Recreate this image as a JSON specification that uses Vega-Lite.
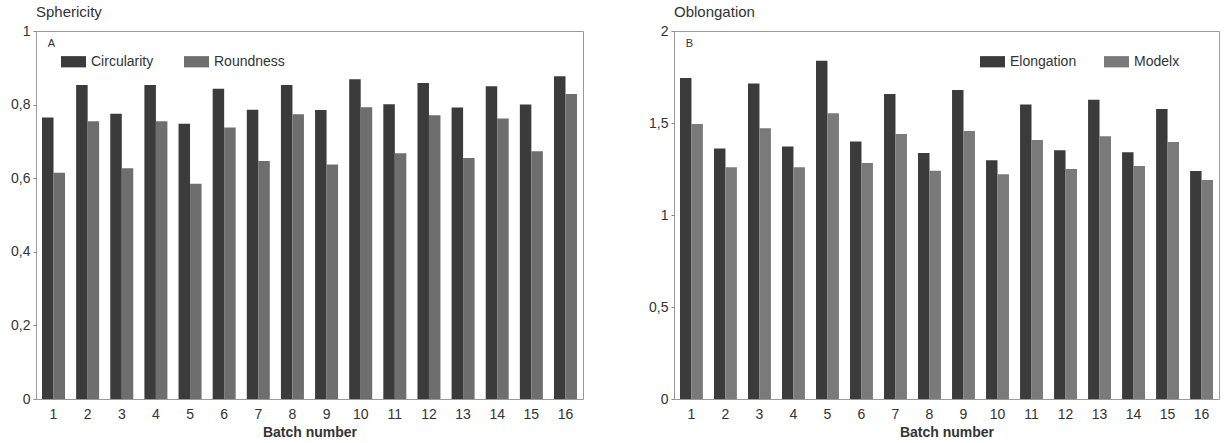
{
  "$schema": "https://vega.github.io/schema/vega-lite/v6.json",
  "background": "white",
  "padding": {"left": 10, "top": 4, "right": 2, "bottom": 0},
  "datasets": {
    "sph": [
      {"batch": 1, "series": "Circularity", "value": 0.765}, {"batch": 1, "series": "Roundness", "value": 0.615},
      {"batch": 2, "series": "Circularity", "value": 0.853}, {"batch": 2, "series": "Roundness", "value": 0.755},
      {"batch": 3, "series": "Circularity", "value": 0.775}, {"batch": 3, "series": "Roundness", "value": 0.627},
      {"batch": 4, "series": "Circularity", "value": 0.853}, {"batch": 4, "series": "Roundness", "value": 0.755},
      {"batch": 5, "series": "Circularity", "value": 0.748}, {"batch": 5, "series": "Roundness", "value": 0.585},
      {"batch": 6, "series": "Circularity", "value": 0.843}, {"batch": 6, "series": "Roundness", "value": 0.738},
      {"batch": 7, "series": "Circularity", "value": 0.786}, {"batch": 7, "series": "Roundness", "value": 0.647},
      {"batch": 8, "series": "Circularity", "value": 0.853}, {"batch": 8, "series": "Roundness", "value": 0.774},
      {"batch": 9, "series": "Circularity", "value": 0.785}, {"batch": 9, "series": "Roundness", "value": 0.637},
      {"batch": 10, "series": "Circularity", "value": 0.869}, {"batch": 10, "series": "Roundness", "value": 0.793},
      {"batch": 11, "series": "Circularity", "value": 0.801}, {"batch": 11, "series": "Roundness", "value": 0.668},
      {"batch": 12, "series": "Circularity", "value": 0.859}, {"batch": 12, "series": "Roundness", "value": 0.771},
      {"batch": 13, "series": "Circularity", "value": 0.792}, {"batch": 13, "series": "Roundness", "value": 0.655},
      {"batch": 14, "series": "Circularity", "value": 0.850}, {"batch": 14, "series": "Roundness", "value": 0.762},
      {"batch": 15, "series": "Circularity", "value": 0.800}, {"batch": 15, "series": "Roundness", "value": 0.673},
      {"batch": 16, "series": "Circularity", "value": 0.877}, {"batch": 16, "series": "Roundness", "value": 0.829}
    ],
    "obl": [
      {"batch": 1, "series": "Elongation", "value": 1.745}, {"batch": 1, "series": "Modelx", "value": 1.495},
      {"batch": 2, "series": "Elongation", "value": 1.362}, {"batch": 2, "series": "Modelx", "value": 1.26},
      {"batch": 3, "series": "Elongation", "value": 1.715}, {"batch": 3, "series": "Modelx", "value": 1.472},
      {"batch": 4, "series": "Elongation", "value": 1.372}, {"batch": 4, "series": "Modelx", "value": 1.26},
      {"batch": 5, "series": "Elongation", "value": 1.838}, {"batch": 5, "series": "Modelx", "value": 1.553},
      {"batch": 6, "series": "Elongation", "value": 1.399}, {"batch": 6, "series": "Modelx", "value": 1.282},
      {"batch": 7, "series": "Elongation", "value": 1.657}, {"batch": 7, "series": "Modelx", "value": 1.44},
      {"batch": 8, "series": "Elongation", "value": 1.337}, {"batch": 8, "series": "Modelx", "value": 1.24},
      {"batch": 9, "series": "Elongation", "value": 1.68}, {"batch": 9, "series": "Modelx", "value": 1.457},
      {"batch": 10, "series": "Elongation", "value": 1.297}, {"batch": 10, "series": "Modelx", "value": 1.222},
      {"batch": 11, "series": "Elongation", "value": 1.601}, {"batch": 11, "series": "Modelx", "value": 1.407},
      {"batch": 12, "series": "Elongation", "value": 1.352}, {"batch": 12, "series": "Modelx", "value": 1.25},
      {"batch": 13, "series": "Elongation", "value": 1.627}, {"batch": 13, "series": "Modelx", "value": 1.428},
      {"batch": 14, "series": "Elongation", "value": 1.341}, {"batch": 14, "series": "Modelx", "value": 1.266},
      {"batch": 15, "series": "Elongation", "value": 1.576}, {"batch": 15, "series": "Modelx", "value": 1.397},
      {"batch": 16, "series": "Elongation", "value": 1.239}, {"batch": 16, "series": "Modelx", "value": 1.19}
    ]
  },
  "config": {
    "font": "Liberation Sans",
    "view": {"stroke": "#9a9a9a", "strokeWidth": 1},
    "concat": {"spacing": 64},
    "axis": {
      "grid": false,
      "domain": false,
      "labelFontSize": 14,
      "labelColor": "#333333",
      "titleFontSize": 14,
      "titleColor": "#333333",
      "titleFontWeight": "bold",
      "tickColor": "#888888",
      "tickSize": 3
    },
    "legend": {
      "labelFontSize": 14,
      "labelColor": "#333333",
      "padding": 0
    },
    "title": {"fontSize": 15, "fontWeight": "normal", "color": "#333333", "anchor": "start", "frame": "group", "offset": 0}
  },
  "hconcat": [
    {
      "width": 547,
      "height": 368,
      "title": "Sphericity",
      "layer": [
        {
          "data": {"name": "sph"},
          "mark": {"type": "bar"},
          "encoding": {
            "x": {"field": "batch", "type": "ordinal", "scale": {"paddingInner": 0.326, "paddingOuter": 0.176},
                  "axis": {"title": "Batch number", "labelAngle": 0, "ticks": false, "labelPadding": 8, "titlePadding": 4}},
            "xOffset": {"field": "series", "type": "nominal", "scale": {"domain": ["Circularity", "Roundness"]}},
            "y": {"field": "value", "type": "quantitative", "scale": {"domain": [0, 1], "nice": false},
                  "axis": {"title": null, "values": [0, 0.2, 0.4, 0.6, 0.8, 1], "labelPadding": 3,
                           "labelExpr": "replace(format(datum.value, '~g'), '.', ',')"}},
            "color": {"field": "series", "type": "nominal",
                      "scale": {"domain": ["Circularity", "Roundness"], "range": ["#3b3b3b", "#6e6e6e"]},
                      "legend": {"orient": "none", "legendX": 25, "legendY": 18, "direction": "horizontal", "title": null,
                                 "symbolType": "M-1,-0.45L1,-0.45L1,0.45L-1,0.45Z", "symbolSize": 625,
                                 "symbolStrokeWidth": 0, "columnPadding": 30, "labelOffset": 5}}
          }
        },
        {
          "data": {"values": [{"label": "A"}]},
          "mark": {"type": "text", "fontSize": 11, "color": "#333333", "align": "left", "baseline": "middle"},
          "encoding": {
            "x": {"datum": 1, "type": "ordinal"},
            "xOffset": {"datum": "Circularity", "type": "nominal"},
            "y": {"datum": 0.965, "type": "quantitative"},
            "text": {"field": "label"}
          }
        }
      ]
    },
    {
      "width": 545,
      "height": 368,
      "title": "Oblongation",
      "layer": [
        {
          "data": {"name": "obl"},
          "mark": {"type": "bar"},
          "encoding": {
            "x": {"field": "batch", "type": "ordinal", "scale": {"paddingInner": 0.326, "paddingOuter": 0.176},
                  "axis": {"title": "Batch number", "labelAngle": 0, "ticks": false, "labelPadding": 8, "titlePadding": 4}},
            "xOffset": {"field": "series", "type": "nominal", "scale": {"domain": ["Elongation", "Modelx"]}},
            "y": {"field": "value", "type": "quantitative", "scale": {"domain": [0, 2], "nice": false},
                  "axis": {"title": null, "values": [0, 0.5, 1, 1.5, 2], "labelPadding": 3,
                           "labelExpr": "replace(format(datum.value, '~g'), '.', ',')"}},
            "color": {"field": "series", "type": "nominal",
                      "scale": {"domain": ["Elongation", "Modelx"], "range": ["#3b3b3b", "#7a7a7a"]},
                      "legend": {"orient": "none", "legendX": 306, "legendY": 18, "direction": "horizontal", "title": null,
                                 "symbolType": "M-1,-0.45L1,-0.45L1,0.45L-1,0.45Z", "symbolSize": 625,
                                 "symbolStrokeWidth": 0, "columnPadding": 27, "labelOffset": 5}}
          }
        },
        {
          "data": {"values": [{"label": "B"}]},
          "mark": {"type": "text", "fontSize": 11, "color": "#333333", "align": "left", "baseline": "middle"},
          "encoding": {
            "x": {"datum": 1, "type": "ordinal"},
            "xOffset": {"datum": "Elongation", "type": "nominal"},
            "y": {"datum": 1.93, "type": "quantitative"},
            "text": {"field": "label"}
          }
        }
      ]
    }
  ],
  "resolve": {
    "scale": {"color": "independent", "x": "independent", "y": "independent", "xOffset": "independent"},
    "legend": {"color": "independent"}
  }
}
